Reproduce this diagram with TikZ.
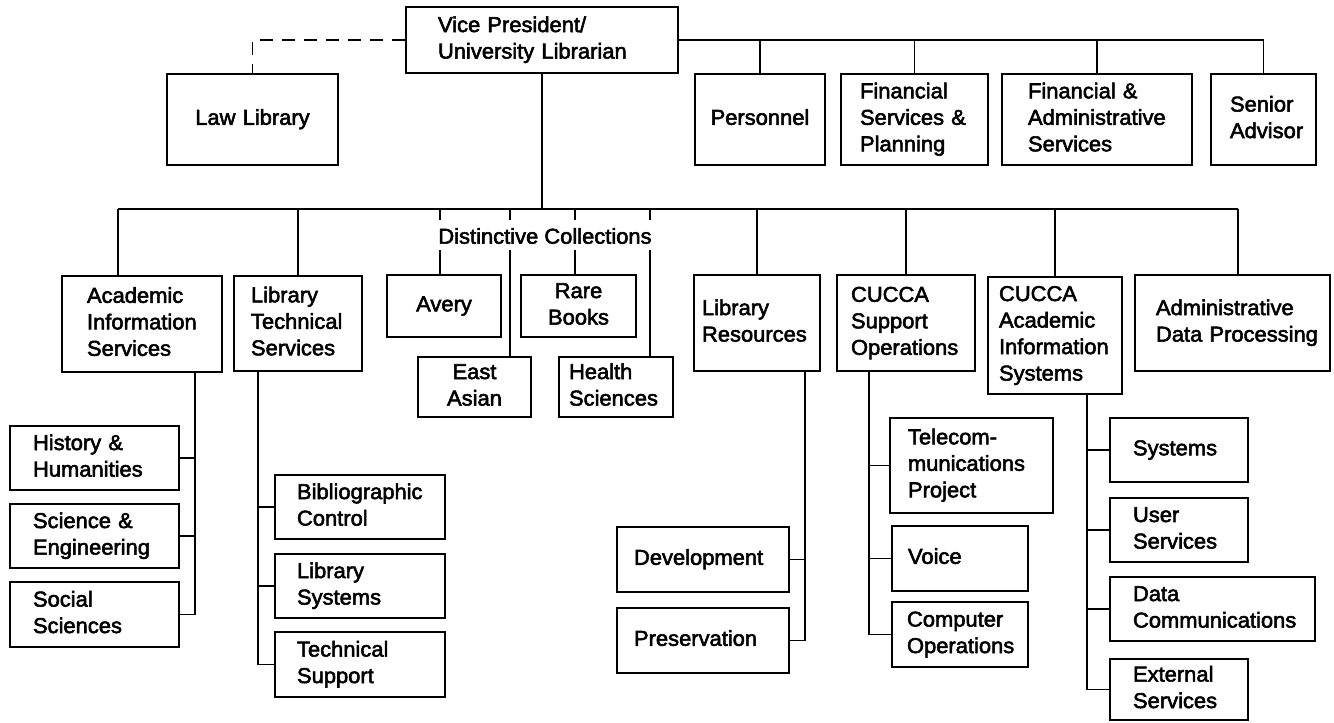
\documentclass[tikz,border=0pt]{standalone}
\usepackage{fontspec}
\newfontfamily\orgfont{Liberation Sans}[FakeBold=2.5, FakeStretch=1.02]

% boxed unit: name, left, top, right, bottom, left inset, text (left aligned)
\newcommand\orgbox[7]{%
  \pgfmathsetmacro\bxw{#4-#2}\pgfmathsetmacro\bxh{#5-#3}%
  \pgfmathsetmacro\bxc{(#2+#4)/2}\pgfmathsetmacro\byc{(#3+#5)/2}%
  \node[unitbox, minimum width=\bxw pt, minimum height=\bxh pt,
        text width=\bxw pt, align=left] (#1) at (\bxc,\byc)
        {\hspace*{#6pt}\begin{tabular}{@{}l@{}}#7\end{tabular}};}
% boxed unit with centred text: name, left, top, right, bottom, text
\newcommand\orgcbox[6]{%
  \pgfmathsetmacro\bxw{#4-#2}\pgfmathsetmacro\bxh{#5-#3}%
  \pgfmathsetmacro\bxc{(#2+#4)/2}\pgfmathsetmacro\byc{(#3+#5)/2}%
  \node[unitbox, minimum width=\bxw pt, minimum height=\bxh pt,
        text width=\bxw pt, align=center] (#1) at (\bxc,\byc)
        {\begin{tabular}{@{}c@{}}#6\end{tabular}};}

\begin{document}
\begin{tikzpicture}[x=1pt,y=-1pt,
  unitbox/.style={draw, line width=2.5pt, inner xsep=0pt, inner ysep=0pt,
    font=\orgfont\fontsize{21.5pt}{26.5pt}\selectfont},
  link/.style={line width=1.4pt},
  dashlink/.style={line width=1.4pt, dash pattern=on 13pt off 9pt},
  captext/.style={font=\orgfont\fontsize{21.5pt}{26.5pt}\selectfont, inner sep=0pt}]

\useasboundingbox (0,0) rectangle (1334,723);

% head and staff offices
\orgbox{vp}{406}{7}{678}{73}{32}{Vice President/\\University Librarian}
\orgcbox{law}{167}{74}{338}{165}{Law Library}
\orgcbox{pers}{695}{74}{825}{165}{Personnel}
\orgbox{fsp}{841}{74}{988}{165}{19}{Financial\\Services \&\\Planning}
\orgbox{fas}{1002}{74}{1192}{165}{26}{Financial \&\\Administrative\\Services}
\orgbox{sen}{1211}{74}{1316}{165}{19}{Senior\\Advisor}

% divisions
\orgbox{ais}{62}{276}{222}{372}{25}{Academic\\Information\\Services}
\orgbox{lts}{234}{276}{362}{371}{17}{Library\\Technical\\Services}
\orgcbox{avery}{387}{275}{501}{337}{Avery}
\orgcbox{rare}{521}{275}{636}{337}{Rare\\Books}
\orgcbox{east}{418}{357}{531}{417}{East\\Asian}
\orgbox{health}{559}{357}{673}{417}{10}{Health\\Sciences}
\orgbox{lres}{694}{275}{820}{371}{8}{Library\\Resources}
\orgbox{csup}{837}{275}{975}{371}{14}{CUCCA\\Support\\Operations}
\orgbox{cais}{988}{277}{1122}{394}{11}{CUCCA\\Academic\\Information\\Systems}
\orgbox{adp}{1135}{275}{1330}{371}{21}{Administrative\\Data Processing}

% departments
\orgbox{hh}{10}{426}{179}{490}{23}{History \&\\Humanities}
\orgbox{se}{10}{504}{179}{568}{23}{Science \&\\Engineering}
\orgbox{ss}{10}{582}{179}{647}{23}{Social\\Sciences}
\orgbox{bib}{275}{475}{445}{539}{22}{Bibliographic\\Control}
\orgbox{lsys}{275}{554}{445}{618}{22}{Library\\Systems}
\orgbox{tsup}{275}{632}{445}{697}{22}{Technical\\Support}
\orgbox{dev}{617}{527}{789}{592}{17}{Development}
\orgbox{pres}{617}{608}{789}{673}{17}{Preservation}
\orgbox{tele}{890}{418}{1053}{513}{18}{Telecom-\\munications\\Project}
\orgbox{voice}{892}{526}{1028}{591}{16}{Voice}
\orgbox{comp}{892}{602}{1028}{667}{15}{Computer\\Operations}
\orgbox{sys}{1110}{418}{1248}{482}{23}{Systems}
\orgbox{user}{1110}{498}{1248}{562}{23}{User\\Services}
\orgbox{datac}{1110}{577}{1315}{641}{23}{Data\\Communications}
\orgbox{ext}{1110}{659}{1248}{720}{23}{External\\Services}

\node[captext] (dc) at (545,236) {Distinctive Collections};

% top level links
\draw[dashlink] (vp.west) -| (law.north);
\draw[link] (vp.east) -| (sen.north);
\foreach \n in {pers,fsp,fas} \draw[link] (\n.north) -- (\n.north |- vp.east);

% main bus to the divisions
\coordinate (busL) at (118,209);
\coordinate (busR) at (1238,209);
\draw[link] (vp.south) -- (vp.south |- busL);
\draw[link] (busL) -- (busR);
\draw[link] (busL) -- (busL |- ais.north);
\draw[link] (busR) -- (busR |- adp.north);
\foreach \n in {lts,lres,csup,cais} \draw[link] (\n.north) -- (\n.north |- busL);

% distinctive collections, lines broken by the caption
\foreach \x/\n in {440/avery,510/east,575/rare,650/health} {
  \coordinate (top\n) at (\x,209);
  \coordinate (gap\n) at (\x,250);
  \draw[link] (top\n) -- ++(0,11);
  \draw[link] (gap\n) -- (gap\n |- \n.north);
}

% spines to the departments
\coordinate (spA) at (195,0);
\coordinate (spB) at (258,0);
\coordinate (spC) at (805,0);
\coordinate (spD) at (869,0);
\coordinate (spE) at (1087,0);

\draw[link] (ais.south -| spA) |- (ss.east);
\foreach \n in {hh,se} \draw[link] (\n.east) -- (\n.east -| spA);

\draw[link] (lts.south -| spB) |- (tsup.west);
\foreach \n in {bib,lsys} \draw[link] (\n.west) -- (\n.west -| spB);

\draw[link] (lres.south -| spC) |- (pres.east);
\draw[link] (dev.east) -- (dev.east -| spC);

\draw[link] (csup.south -| spD) |- (comp.west);
\foreach \n in {tele,voice} \draw[link] (\n.west) -- (\n.west -| spD);

\draw[link] (cais.south -| spE) |- (ext.west);
\foreach \n in {sys,user,datac} \draw[link] (\n.west) -- (\n.west -| spE);

\end{tikzpicture}
\end{document}
